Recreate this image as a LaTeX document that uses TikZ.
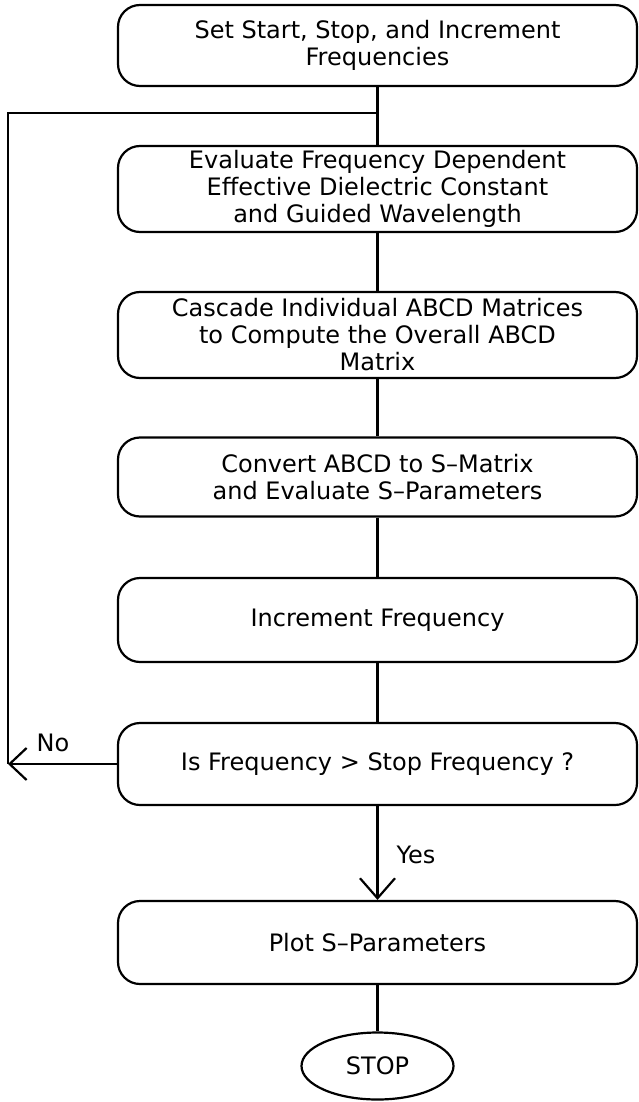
\documentclass[tikz,border=0pt]{standalone}
\usepackage{fontspec}
\setmainfont{DejaVu Sans}
\usetikzlibrary{arrows.meta,shapes.geometric}
\begin{document}
\begin{tikzpicture}[x=1pt,y=-1pt,
  txt/.style={font=\fontsize{24}{27}\selectfont},
  box/.style={txt,draw,line width=2.2pt,rounded corners=22pt,minimum width=519pt,inner sep=0pt,align=center},
  oval/.style={txt,draw,line width=2.2pt,ellipse,minimum width=152pt,minimum height=67pt,inner sep=0pt},
  conn/.style={line width=2.2pt},
  barb/.style={-{Straight Barb[length=17pt,width=32pt,line width=2.2pt]}}]
\useasboundingbox (0,0) rectangle (638,1102);
\node[box,minimum height=81pt] (b1) at (377.5,45.5) {Set Start, Stop, and Increment\\Frequencies};
\node[box,minimum height=86pt] (b2) at (377.5,189) {Evaluate Frequency Dependent\\Effective Dielectric Constant\\and Guided Wavelength};
\node[box,minimum height=86pt] (b3) at (377.5,335) {Cascade Individual ABCD Matrices\\to Compute the Overall ABCD\\Matrix};
\node[box,minimum height=79pt] (b4) at (377.5,477) {Convert ABCD to S--Matrix\\and Evaluate S--Parameters};
\node[box,minimum height=84pt] (b5) at (377.5,620) {Increment Frequency};
\node[box,minimum height=82pt] (b6) at (377.5,764) {Is Frequency > Stop Frequency ?};
\node[box,minimum height=83pt] (b7) at (377.5,942.5) {Plot S--Parameters};
\node[oval] (stop) at (377.5,1066) {STOP};
\coordinate (j) at (377.5,113);
\coordinate (c1) at (8,113);
\coordinate (c2) at (8,764);
\draw[conn] (b1.south) -- (b2.north);
\draw[conn] (j) -- (c1) -- (c2);
\draw[conn] (b2.south) -- (b3.north);
\draw[conn] (b3.south) -- (b4.north);
\draw[conn] (b4.south) -- (b5.north);
\draw[conn] (b5.south) -- (b6.north);
\draw[conn,barb] (b6.west) -- (c2);
\draw[conn,-{Straight Barb[length=20pt,width=35pt,line width=2.2pt]}] (b6.south) -- (b7.north);
\draw[conn] (b7.south) -- (stop.north);
\node[txt] (no) at (53,743) {No};
\node[txt] (yes) at (416,855) {Yes};
\end{tikzpicture}
\end{document}
